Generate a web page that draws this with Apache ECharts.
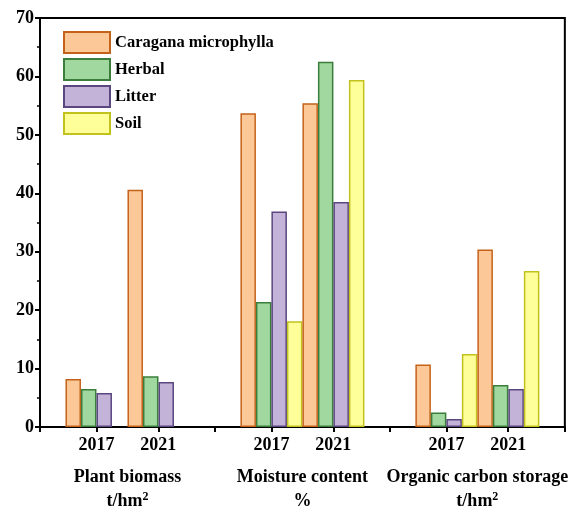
<!DOCTYPE html>
<html>
<head>
<meta charset="utf-8">
<script src="https://cdn.jsdelivr.net/npm/echarts@6/dist/echarts.min.js"></script>
<style>
html,body{margin:0;padding:0;background:#fff;}
#chart{width:571px;height:513px;}
</style>
</head>
<body>
<div id="chart"></div>
<script>
// ---- data ----
const groups = ['Plant biomass\nt/hm²', 'Moisture content\n%', 'Organic carbon storage\nt/hm²'];
const years = ['2017', '2021'];
const seriesNames = ['Caragana microphylla', 'Herbal', 'Litter', 'Soil'];
const caragana2017 = [8.2, 53.7, 10.7];
const caragana2021 = [40.6, 55.4, 30.4];
const herbal2017 = [6.5, 21.4, 2.5];
const herbal2021 = [8.7, 62.5, 7.2];
const litter2017 = [5.8, 36.9, 1.35];
const litter2021 = [7.7, 38.5, 6.5];
const soil2017 = [null, 18.1, 12.5];
const soil2021 = [null, 59.4, 26.7];
const yTicks = [0, 10, 20, 30, 40, 50, 60, 70];

// ---- styles ----
const fills = ['#FDC898', '#A0D8A0', '#C3B3D8', '#FFFF99'];
const borders = ['#C4621A', '#3B7D3B', '#5B467F', '#C2C21E'];
const font = 'Liberation Serif';

const byYear = [
  [caragana2017, herbal2017, litter2017, soil2017],
  [caragana2021, herbal2021, litter2021, soil2021]
];

const series = [];
byYear.forEach((arrs) => {
  arrs.forEach((vals, s) => {
    series.push({
      type: 'bar',
      name: seriesNames[s],
      xAxisIndex: 0,
      yAxisIndex: 0,
      data: vals,
      barWidth: 15.5,
      barGap: '0%',
      itemStyle: { color: fills[s], borderColor: borders[s], borderWidth: 1.5 }
    });
  });
});

// secondary axis for year labels: 17 fine slots per group
const SLOTS = 17;
const yearSlot = [5, 11];
const yearCats = [];
groups.forEach(() => {
  for (let k = 0; k < SLOTS; k++) {
    const yi = yearSlot.indexOf(k);
    yearCats.push(yi >= 0 ? years[yi] : '');
  }
});

const chart = echarts.init(document.getElementById('chart'), null, { renderer: 'canvas' });
chart.setOption({
  animation: false,
  backgroundColor: '#fff',
  grid: { left: 40, right: 4, top: 18, bottom: 82, show: true, borderColor: '#000', borderWidth: 2 },
  legend: {
    data: seriesNames,
    orient: 'vertical',
    left: 58, top: 26,
    itemWidth: 46, itemHeight: 21, itemGap: 4,
    icon: 'rect',
    textStyle: { fontFamily: font, fontWeight: 'bold', fontSize: 16.5, color: '#000' }
  },
  xAxis: [
    {
      type: 'category',
      data: groups,
      position: 'bottom',
      axisLine: { show: true, lineStyle: { color: '#000', width: 2 } },
      axisTick: { show: true, length: 5, lineStyle: { color: '#000', width: 2 } },
      axisLabel: {
        interval: 0, margin: 38, fontFamily: font, fontWeight: 'bold', fontSize: 18, color: '#000', lineHeight: 24,
        formatter: (v) => v.replace('²', '{sup|2}'),
        rich: { sup: { fontFamily: font, fontWeight: 'bold', fontSize: 12, color: '#000', padding: [0, 0, 9, 0], lineHeight: 24 } }
      },
      splitLine: { show: false }
    },
    {
      type: 'category',
      data: yearCats,
      position: 'bottom',
      axisLine: { show: false },
      axisTick: { show: true, alignWithLabel: true, length: 5, lineStyle: { color: '#000', width: 2 },
        interval: (i, v) => v !== '' },
      axisLabel: { interval: (i, v) => v !== '', margin: 9, fontFamily: font, fontWeight: 'bold', fontSize: 18, color: '#000' },
      splitLine: { show: false }
    }
  ],
  yAxis: {
    type: 'value',
    min: yTicks[0], max: yTicks[yTicks.length - 1], interval: 10,
    axisLine: { show: true, lineStyle: { color: '#000', width: 2 } },
    axisTick: { show: true, length: 5, lineStyle: { color: '#000', width: 2 } },
    minorTick: { show: true, splitNumber: 2, length: 3, lineStyle: { color: '#000', width: 1.5 } },
    axisLabel: { margin: 6, fontFamily: font, fontWeight: 'bold', fontSize: 18, color: '#000' },
    splitLine: { show: false }
  },
  series: series
});
</script>
</body>
</html>
